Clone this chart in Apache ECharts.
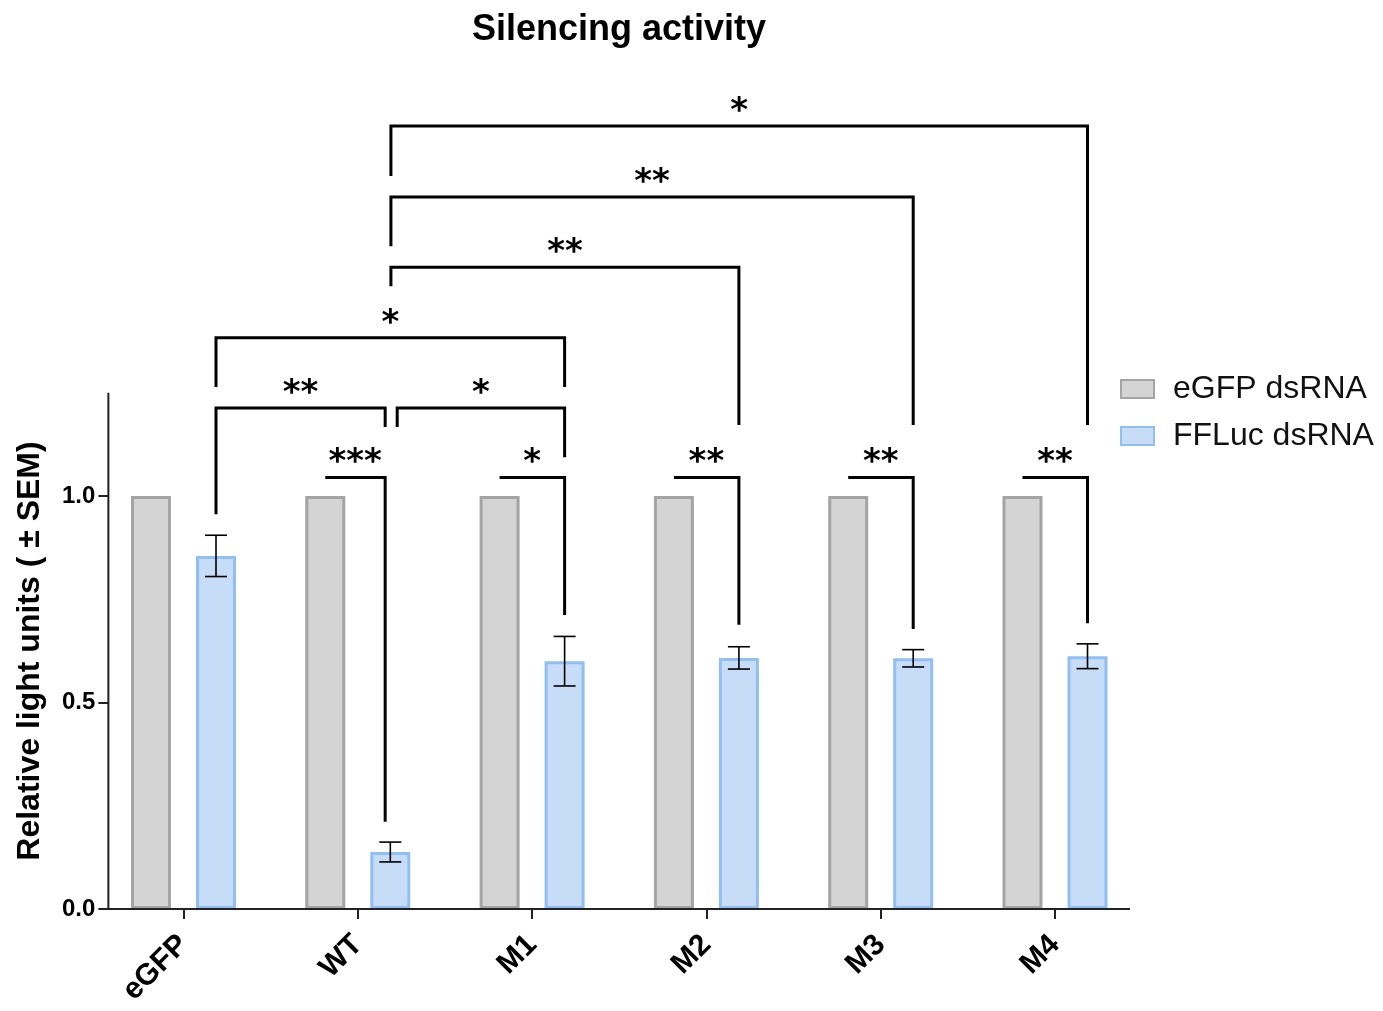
<!DOCTYPE html>
<html>
<head>
<meta charset="utf-8">
<script src="https://cdn.jsdelivr.net/npm/echarts@6/dist/echarts.min.js"></script>
<style>
  html, body { margin: 0; padding: 0; background: #fff; }
  #chart { width: 1383px; height: 1011px; }
</style>
</head>
<body>
<div id="chart"></div>
<script>
const categories = ['eGFP', 'WT', 'M1', 'M2', 'M3', 'M4']
const egfpValues = [1.0, 1.0, 1.0, 1.0, 1.0, 1.0]
const ffLucValues = [0.855, 0.138, 0.600, 0.608, 0.607, 0.612]
const ffLucSem = [0.050, 0.024, 0.060, 0.027, 0.021, 0.030]
const yTicks = [0, 0.5, 1.0]

// significance brackets, x in category units (0 = eGFP), y in data units
const sigLabels = ['***', '*', '**', '**', '**', '**', '*', '*', '**', '**', '*']
const sigFrom = [0.8135, 1.8135, 2.8135, 3.8135, 4.8135, 0.1865, 1.226, 0.1865, 1.19, 1.19, 1.19]
const sigTo = [1.157, 2.1865, 3.1865, 4.1865, 5.1865, 1.157, 2.1865, 2.1865, 3.1865, 4.1865, 5.1865]
const sigLevel = [1.045, 1.045, 1.045, 1.045, 1.045, 1.213, 1.213, 1.383, 1.554, 1.724, 1.896]
const sigLeftEnd = [1.045, 1.045, 1.045, 1.045, 1.045, 0.956, 1.167, 1.264, 1.508, 1.605, 1.775]
const sigRightEnd = [0.211, 0.712, 0.688, 0.678, 0.692, 1.167, 1.094, 1.264, 1.172, 1.172, 1.172]

const blueOffset = 0.1865
const axisFrom = -0.431
const axisTo = 5.43
const axisTop = 1.25

const chart = echarts.init(document.getElementById('chart'))

// category units -> pixels
function toPx(api, x, y) {
  const p0 = api.coord([0, y])
  const band = api.size([1, 0])[0]
  return [p0[0] + x * band, p0[1]]
}

const lineStyle = { stroke: '#000', lineWidth: 3, fill: null, lineJoin: 'miter', lineCap: 'butt' }

const option = {
  animation: false,
  title: {
    text: 'Silencing activity',
    left: 614,
    top: 7,
    textAlign: 'center',
    textStyle: { fontFamily: 'Liberation Sans', fontSize: 36, fontWeight: 'bold', color: '#000' }
  },
  legend: {
    orient: 'vertical',
    left: 1115,
    top: 366,
    data: ['eGFP dsRNA', 'FFLuc dsRNA'],
    itemWidth: 33,
    itemHeight: 18,
    itemGap: 11,
    icon: 'rect',
    textStyle: {
      fontFamily: 'Liberation Sans', fontSize: 32, color: '#111',
      lineHeight: 36, padding: [0, 0, 0, 14]
    }
  },
  graphic: [{
    type: 'text',
    x: 30,
    y: 651,
    rotation: Math.PI / 2,
    style: {
      text: 'Relative light units ( \u00b1 SEM)',
      font: 'bold 32px "Liberation Sans"',
      fill: '#000',
      align: 'center',
      verticalAlign: 'middle'
    }
  }],
  grid: { left: 96.35, right: 240.85, top: 83, bottom: 102, containLabel: false },
  xAxis: {
    type: 'category',
    data: categories,
    axisLine: { show: false },
    axisTick: { show: true, alignWithLabel: true, length: 10, lineStyle: { color: '#222', width: 2 } },
    axisLabel: {
      rotate: 45, margin: 31, interval: 0,
      fontFamily: 'Liberation Sans', fontSize: 30, fontWeight: 'bold', color: '#000'
    },
    splitLine: { show: false }
  },
  yAxis: {
    type: 'value',
    min: 0,
    max: 2.0,
    offset: -12,
    axisLine: { show: false },
    axisTick: { show: true, customValues: yTicks, length: 10, lineStyle: { color: '#222', width: 2 } },
    axisLabel: {
      customValues: yTicks, margin: 13,
      formatter: v => v.toFixed(1),
      fontFamily: 'Liberation Sans', fontSize: 24, fontWeight: 'bold', color: '#000'
    },
    splitLine: { show: false }
  },
  series: [
    {
      name: 'eGFP dsRNA',
      type: 'bar',
      data: egfpValues,
      barWidth: 40,
      barGap: '62.5%',
      itemStyle: { color: '#d4d4d4', borderColor: '#a4a4a4', borderWidth: 3 }
    },
    {
      name: 'FFLuc dsRNA',
      type: 'bar',
      data: ffLucValues,
      barWidth: 40,
      barGap: '62.5%',
      itemStyle: { color: '#c7dcf6', borderColor: '#92bff3', borderWidth: 3 }
    },
    {
      // error bars on the FFLuc bars
      type: 'custom',
      silent: true,
      z: 5,
      data: ffLucValues.map((v, i) => [i, v]),
      renderItem(params, api) {
        const i = params.dataIndex
        const top = toPx(api, i + blueOffset, ffLucValues[i] + ffLucSem[i])
        const bot = toPx(api, i + blueOffset, ffLucValues[i] - ffLucSem[i])
        const hw = 11
        const st = { stroke: '#000', lineWidth: 1.6 }
        return {
          type: 'group',
          children: [
            { type: 'line', shape: { x1: top[0], y1: top[1], x2: bot[0], y2: bot[1] }, style: st },
            { type: 'line', shape: { x1: top[0] - hw, y1: top[1], x2: top[0] + hw, y2: top[1] }, style: st },
            { type: 'line', shape: { x1: bot[0] - hw, y1: bot[1], x2: bot[0] + hw, y2: bot[1] }, style: st }
          ]
        }
      }
    },
    {
      // significance brackets
      type: 'custom',
      silent: true,
      z: 6,
      data: sigLabels.map(() => [0, 0]),
      renderItem(params, api) {
        const k = params.dataIndex
        const a = toPx(api, sigFrom[k], sigLeftEnd[k])
        const b = toPx(api, sigFrom[k], sigLevel[k])
        const c = toPx(api, sigTo[k], sigLevel[k])
        const d = toPx(api, sigTo[k], sigRightEnd[k])
        return {
          type: 'group',
          children: [
            { type: 'polyline', shape: { points: [a, b, c, d] }, style: lineStyle },
            {
              type: 'text',
              x: (b[0] + c[0]) / 2,
              y: b[1] - 14,
              style: {
                text: sigLabels[k],
                font: 'bold 34px "DejaVu Sans"',
                fill: '#000',
                align: 'center',
                verticalAlign: 'middle'
              }
            }
          ]
        }
      }
    },
    {
      // axis lines: y axis stops at 1.25, x axis short of the outer bands
      type: 'custom',
      silent: true,
      z: 4,
      data: [[0, 0]],
      renderItem(params, api) {
        const p1 = toPx(api, axisFrom, axisTop)
        const p2 = toPx(api, axisFrom, 0)
        const p3 = toPx(api, axisTo, 0)
        return {
          type: 'polyline',
          shape: { points: [p1, p2, p3] },
          style: { stroke: '#222', lineWidth: 2, fill: null, lineJoin: 'miter' }
        }
      }
    }
  ]
}

chart.setOption(option)
</script>
</body>
</html>
